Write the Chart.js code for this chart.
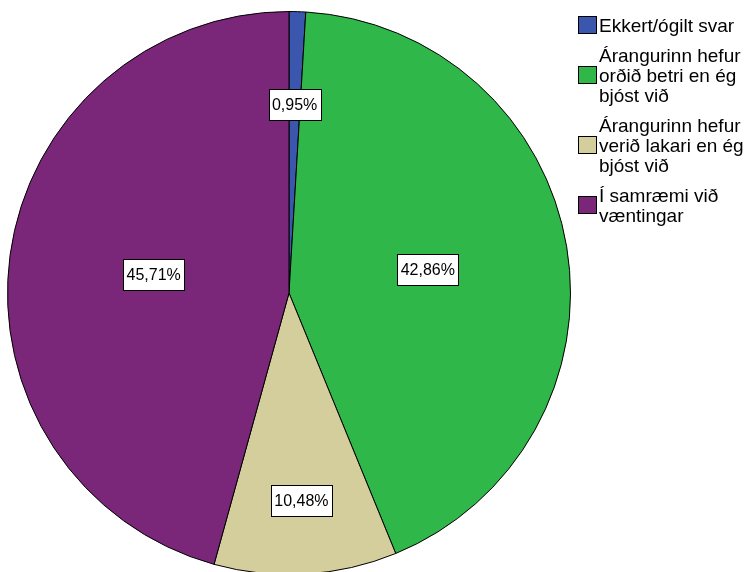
<!DOCTYPE html>
<html>
<head>
<meta charset="utf-8">
<script src="https://cdn.jsdelivr.net/npm/chart.js@4/dist/chart.umd.min.js"></script>
<style>
  html, body { margin: 0; padding: 0; background: #ffffff; overflow: hidden; }
  #wrap { position: absolute; left: 0; top: 0; width: 748px; height: 600px; }
</style>
</head>
<body>
<div id="wrap"><canvas id="c" width="748" height="600"></canvas></div>
<script>
// ---- data ----
const categories = [
  "Ekkert/ógilt svar",
  "Árangurinn hefur\norðið betri en ég\nbjóst við",
  "Árangurinn hefur\nverið lakari en ég\nbjóst við",
  "Í samræmi við\nvæntingar"
];
const percentValues = [0.95, 42.86, 10.48, 45.71];
const valueLabels = ["0,95%", "42,86%", "10,48%", "45,71%"];
const sliceColors = ["#3b56ad", "#30b74a", "#d3ce9b", "#7a277a"];

// label placement (fraction of radius along slice mid-angle)
const labelRadiusFrac = [0.67, 0.50, 0.74, 0.485];

const FONT = "'Liberation Sans', Arial, sans-serif";

const labelPlugin = {
  id: 'boxLabels',
  afterDatasetsDraw(chart) {
    const ctx = chart.ctx;
    const meta = chart.getDatasetMeta(0);
    ctx.save();
    ctx.font = "16px " + FONT;
    ctx.textAlign = 'center';
    ctx.textBaseline = 'middle';
    meta.data.forEach((arc, i) => {
      const p = arc.getProps(['x', 'y', 'startAngle', 'endAngle', 'outerRadius'], true);
      const mid = (p.startAngle + p.endAngle) / 2;
      const r = p.outerRadius * labelRadiusFrac[i];
      const cx = p.x + Math.cos(mid) * r;
      const cy = p.y + Math.sin(mid) * r;
      const txt = valueLabels[i];
      const w = Math.round(ctx.measureText(txt).width + 7);
      const h = 31;
      const bx = Math.round(cx - w / 2) + 0.5;
      const by = Math.round(cy - h / 2) + 0.5;
      ctx.fillStyle = '#ffffff';
      ctx.fillRect(bx, by, w, h);
      ctx.strokeStyle = '#000000';
      ctx.lineWidth = 1;
      ctx.strokeRect(bx, by, w, h);
      ctx.fillStyle = '#000000';
      ctx.fillText(txt, cx, cy + 1);
    });
    ctx.restore();
  }
};

const legendPlugin = {
  id: 'sideLegend',
  afterDraw(chart) {
    const ctx = chart.ctx;
    ctx.save();
    ctx.font = "19px " + FONT;
    ctx.textAlign = 'left';
    ctx.textBaseline = 'middle';
    const lineH = 20;
    const gap = 10;
    let y = 16;
    categories.forEach((cat, i) => {
      const lines = cat.split('\n');
      const blockH = lines.length * lineH;
      const midY = y + blockH / 2;
      ctx.fillStyle = sliceColors[i];
      ctx.fillRect(578.5, Math.round(midY - 10) + 0.5, 18, 17);
      ctx.strokeStyle = '#000000';
      ctx.lineWidth = 1;
      ctx.strokeRect(578.5, Math.round(midY - 10) + 0.5, 18, 17);
      ctx.fillStyle = '#000000';
      lines.forEach((ln, k) => {
        ctx.fillText(ln, 599, y + lineH * k + lineH / 2 + 1);
      });
      y += blockH + gap;
    });
    ctx.restore();
  }
};

new Chart(document.getElementById('c'), {
  type: 'pie',
  data: {
    labels: categories,
    datasets: [{
      data: percentValues,
      backgroundColor: sliceColors,
      borderColor: '#000000',
      borderWidth: 1,
      hoverOffset: 0
    }]
  },
  options: {
    responsive: false,
    animation: false,
    rotation: 0,
    layout: { padding: { left: 7, top: 11, right: 177, bottom: 25 } },
    plugins: {
      legend: { display: false },
      tooltip: { enabled: false },
      title: { display: false }
    }
  },
  plugins: [labelPlugin, legendPlugin]
});
</script>
</body>
</html>
